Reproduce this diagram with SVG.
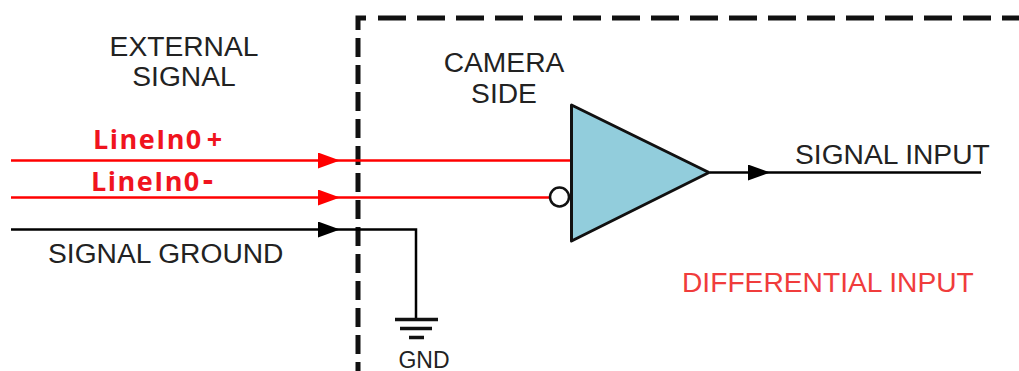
<svg xmlns="http://www.w3.org/2000/svg" width="1019" height="371" viewBox="0 0 1019 371">
<style>
text{font-family:"Liberation Sans",Arial,sans-serif;font-size:28.200px;fill:#222}
.c{text-anchor:middle}
.red{stroke:#f00;stroke-width:2.500;fill:none}
.blk{stroke:#000;stroke-width:2.500;fill:none}
.lbl{font-family:"Open Sans","Noto Sans",sans-serif;font-weight:700;fill:#f0141e;font-size:27px;letter-spacing:1.500px}
.dash{fill:none;stroke:#111;stroke-width:5}
</style>
<defs>
<marker id="ar" markerUnits="userSpaceOnUse" markerWidth="24" markerHeight="18" refX="22" refY="8" orient="auto"><path d="M0 0L22 8L0 16Z" fill="#f00"/></marker>
<marker id="ab" markerUnits="userSpaceOnUse" markerWidth="24" markerHeight="18" refX="22" refY="8" orient="auto"><path d="M0 0L22 8L0 16Z" fill="#000"/></marker>
</defs>
<g id="boundary">
<path class="dash" d="M358 30V18H366"/>
<path class="dash" d="M358 38V371" stroke-dasharray="19 8"/>
<path class="dash" d="M378 18H1019" stroke-dasharray="28 11"/>
</g>
<g id="connectors">
<path class="red" d="M11 160.500H340" marker-end="url(#ar)"/>
<path class="red" d="M340 160.500H571"/>
<path class="red" d="M11 197.500H340" marker-end="url(#ar)"/>
<path class="red" d="M340 197.500H550"/>
<path class="blk" d="M11 229.500H340" marker-end="url(#ab)"/>
<path class="blk" d="M340 229.500H416V318"/>
<path class="blk" d="M710 172.500H770" marker-end="url(#ab)"/>
<path class="blk" d="M770 172.500H981"/>
</g>
<g id="ground" stroke="#111" stroke-width="3.500">
<path d="M395 319.500H438M400 328.500H432M409 337.500H424"/>
</g>
<g id="amp">
<path d="M571.500 105L709 172.500L571.500 241Z" fill="#92cddc" stroke="#111" stroke-width="3" stroke-linejoin="round"/>
<circle cx="559.500" cy="197" r="9.500" fill="#fff" stroke="#111" stroke-width="2.500"/>
</g>
<g id="labels">
<text class="c" x="184" y="56">EXTERNAL</text>
<text class="c" x="184" y="86">SIGNAL</text>
<text class="c" x="504" y="72">CAMERA</text>
<text class="c" x="504" y="103">SIDE</text>
<text class="lbl" x="93" y="149">LineIn0<tspan dx="4">+</tspan></text>
<text class="lbl" x="91" y="191">LineIn0<tspan dx="2" style="font-size:32px">-</tspan></text>
<text x="48" y="263">SIGNAL GROUND</text>
<text x="795" y="164">SIGNAL INPUT</text>
<text x="682" y="292" style="fill:#f03c3c">DIFFERENTIAL INPUT</text>
<text class="c" x="424" y="368" style="font-size:23px">GND</text>
</g>
</svg>
